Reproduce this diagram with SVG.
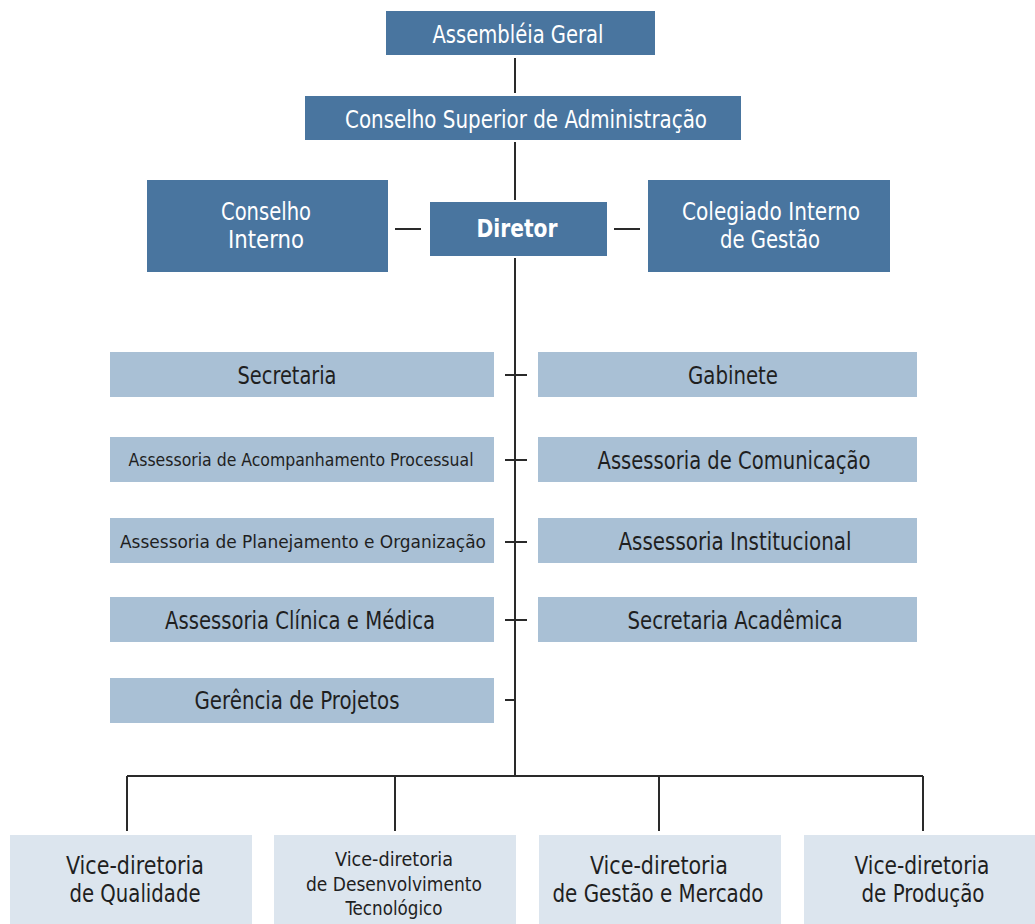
<svg xmlns="http://www.w3.org/2000/svg" width="1035" height="924" viewBox="0 0 1035 924">
<style>
.dk{fill:#49759f}
.lt{fill:#a9c0d5}
.vl{fill:#dce5ee}
text{font-family:"Liberation Sans Narrow","DejaVu Sans Condensed","Liberation Sans",sans-serif;text-anchor:middle}
.w{fill:#ffffff;font-size:25px}
.wb{fill:#ffffff;font-size:25px;font-weight:bold}
.b{fill:#1f1f1f;font-size:24px}
.bs{fill:#1f1f1f;font-size:18px}
.bm{fill:#1f1f1f;font-size:20px}
.c{stroke:#2a2a2a;stroke-width:2;fill:none}
</style>
<rect width="1035" height="924" fill="#ffffff"/>
<g id="connectors">
<path class="c" d="M515 58V93M515 142V200M515 258V776M395 229H421M614 229H640M505 375H527M505 460H527M505 542H527M505 620H527M505 700H515M127 776H923M127 776V831M395 776V831M659 776V831M923 776V831"/>
</g>
<g id="assembleia"><rect class="dk" x="386" y="11" width="269" height="44"/><text class="w" x="518" y="43" textLength="171" lengthAdjust="spacingAndGlyphs">Assembléia Geral</text></g>
<g id="conselho-superior"><rect class="dk" x="305" y="96" width="436" height="44"/><text class="w" x="526" y="128" textLength="362" lengthAdjust="spacingAndGlyphs">Conselho Superior de Administração</text></g>
<g id="conselho-interno"><rect class="dk" x="147" y="180" width="241" height="92"/><text class="w" x="266" y="220" textLength="90" lengthAdjust="spacingAndGlyphs">Conselho</text><text class="w" x="266" y="248" textLength="76" lengthAdjust="spacingAndGlyphs">Interno</text></g>
<g id="diretor"><rect class="dk" x="430" y="202" width="177" height="54"/><text class="wb" x="517" y="237" textLength="81" lengthAdjust="spacingAndGlyphs">Diretor</text></g>
<g id="colegiado"><rect class="dk" x="648" y="180" width="242" height="92"/><text class="w" x="771" y="220" textLength="178" lengthAdjust="spacingAndGlyphs">Colegiado Interno</text><text class="w" x="770" y="248" textLength="100" lengthAdjust="spacingAndGlyphs">de Gestão</text></g>
<g id="secretaria"><rect class="lt" x="110" y="352" width="384" height="45"/><text class="b" x="287" y="384" textLength="99" lengthAdjust="spacingAndGlyphs">Secretaria</text></g>
<g id="gabinete"><rect class="lt" x="538" y="352" width="379" height="45"/><text class="b" x="733" y="384" textLength="90" lengthAdjust="spacingAndGlyphs">Gabinete</text></g>
<g id="acompanhamento"><rect class="lt" x="110" y="437" width="384" height="45"/><text class="bs" x="301" y="466" textLength="345" lengthAdjust="spacingAndGlyphs">Assessoria de Acompanhamento Processual</text></g>
<g id="comunicacao"><rect class="lt" x="538" y="437" width="379" height="45"/><text class="b" x="734" y="469" textLength="273" lengthAdjust="spacingAndGlyphs">Assessoria de Comunicação</text></g>
<g id="planejamento"><rect class="lt" x="110" y="518" width="384" height="45"/><text class="bs" x="303" y="548" textLength="366" lengthAdjust="spacingAndGlyphs">Assessoria de Planejamento e Organização</text></g>
<g id="institucional"><rect class="lt" x="538" y="518" width="379" height="45"/><text class="b" x="735" y="550" textLength="233" lengthAdjust="spacingAndGlyphs">Assessoria Institucional</text></g>
<g id="clinica"><rect class="lt" x="110" y="597" width="384" height="45"/><text class="b" x="300" y="629" textLength="270" lengthAdjust="spacingAndGlyphs">Assessoria Clínica e Médica</text></g>
<g id="academica"><rect class="lt" x="538" y="597" width="379" height="45"/><text class="b" x="735" y="629" textLength="215" lengthAdjust="spacingAndGlyphs">Secretaria Acadêmica</text></g>
<g id="projetos"><rect class="lt" x="110" y="678" width="384" height="45"/><text class="b" x="297" y="709" textLength="205" lengthAdjust="spacingAndGlyphs">Gerência de Projetos</text></g>
<g id="vd-qualidade"><rect class="vl" x="10" y="835" width="242" height="89"/><text class="b" x="135" y="874" textLength="138" lengthAdjust="spacingAndGlyphs">Vice-diretoria</text><text class="b" x="135" y="902" textLength="131" lengthAdjust="spacingAndGlyphs">de Qualidade</text></g>
<g id="vd-desenvolvimento"><rect class="vl" x="274" y="835" width="242" height="89"/><text class="bm" x="394" y="866" textLength="118" lengthAdjust="spacingAndGlyphs">Vice-diretoria</text><text class="bm" x="394" y="891" textLength="176" lengthAdjust="spacingAndGlyphs">de Desenvolvimento</text><text class="bm" x="394" y="915" textLength="97" lengthAdjust="spacingAndGlyphs">Tecnológico</text></g>
<g id="vd-gestao"><rect class="vl" x="539" y="835" width="242" height="89"/><text class="b" x="659" y="874" textLength="138" lengthAdjust="spacingAndGlyphs">Vice-diretoria</text><text class="b" x="658" y="902" textLength="211" lengthAdjust="spacingAndGlyphs">de Gestão e Mercado</text></g>
<g id="vd-producao"><rect class="vl" x="804" y="835" width="231" height="89"/><text class="b" x="922" y="874" textLength="135" lengthAdjust="spacingAndGlyphs">Vice-diretoria</text><text class="b" x="923" y="902" textLength="123" lengthAdjust="spacingAndGlyphs">de Produção</text></g>
</svg>
